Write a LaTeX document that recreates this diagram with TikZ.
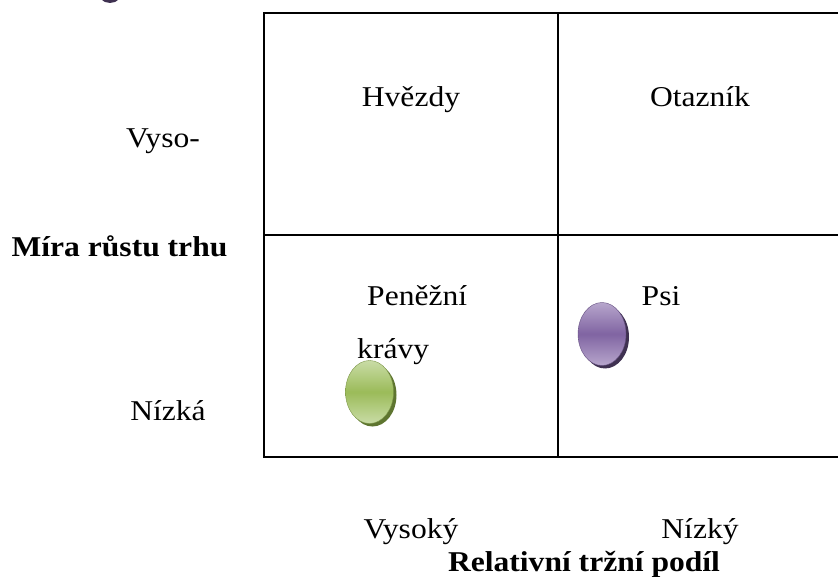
\documentclass[tikz,border=0pt]{standalone}
\usepackage{fontspec}
\setmainfont{Liberation Serif}
\usetikzlibrary{shapes.geometric}
\definecolor{gmain}{HTML}{9BBB59}
\definecolor{glight}{HTML}{C9DCA6}
\definecolor{gdark}{HTML}{5E7530}
\definecolor{pmain}{HTML}{8064A2}
\definecolor{plight}{HTML}{B7A6CC}
\definecolor{pdark}{HTML}{3F3151}
\tikzset{
  lbl/.style={font=\fontsize{28.7}{34}\selectfont, inner sep=0pt, anchor=base, xscale=1.1},
  blbl/.style={lbl, font=\fontsize{28.7}{34}\selectfont\bfseries},
  gridline/.style={line width=2pt, black},
  blob/.style={ellipse, minimum width=48pt, minimum height=63pt, inner sep=0pt},
}
\begin{document}
\begin{tikzpicture}[x=1pt,y=-1pt]
\useasboundingbox (0,0) rectangle (838,577);
% grid
\coordinate (tl) at (264,13);
\coordinate (tr) at (838,13);
\coordinate (ml) at (264,235);
\coordinate (mr) at (838,235);
\coordinate (bl) at (264,457);
\coordinate (br) at (838,457);
\coordinate (vt) at (557.5,13);
\coordinate (vb) at (557.5,457);
\draw[gridline] (tr) -- (tl) -- (bl) -- (br);
\draw[gridline] (ml) -- (mr);
\draw[gridline] (vt) -- (vb);
% top-left partial circle
\fill[pdark] (110,-10) ellipse (13pt and 13pt);
% labels
\node[lbl] (hv) at (411,107) {Hvězdy};
\node[lbl] (ot) at (700,107) {Otazník};
\node[lbl] (vy) at (163,148) {Vyso-};
\node[blbl] (mr2) at (119.5,257) {Míra růstu trhu};
\node[lbl, anchor=base west] (pe) at (367,306) {Peněžní};
\node[lbl, anchor=base west] (kr) at (357,358) {krávy};
\node[lbl] (ps) at (661,306) {Psi};
\node[lbl] (ni) at (168,420) {Nízká};
\node[lbl] (vs) at (411,538) {Vysoký};
\node[lbl] (nk) at (700,538) {Nízký};
\node[blbl] (rt) at (584,571) {Relativní tržní podíl};
% green blob
\node[blob, fill=gdark] (gs) at (372.5,395) {};
\node[blob, top color=glight, bottom color=glight, middle color=gmain, draw=gmain!80!black, line width=0.4pt] (g) at (369.5,392) {};
% purple blob
\node[blob, fill=pdark] (psh) at (605,337) {};
\node[blob, top color=plight, bottom color=plight, middle color=pmain, draw=pmain!80!black, line width=0.4pt] (p) at (602,334) {};
\end{tikzpicture}
\end{document}
